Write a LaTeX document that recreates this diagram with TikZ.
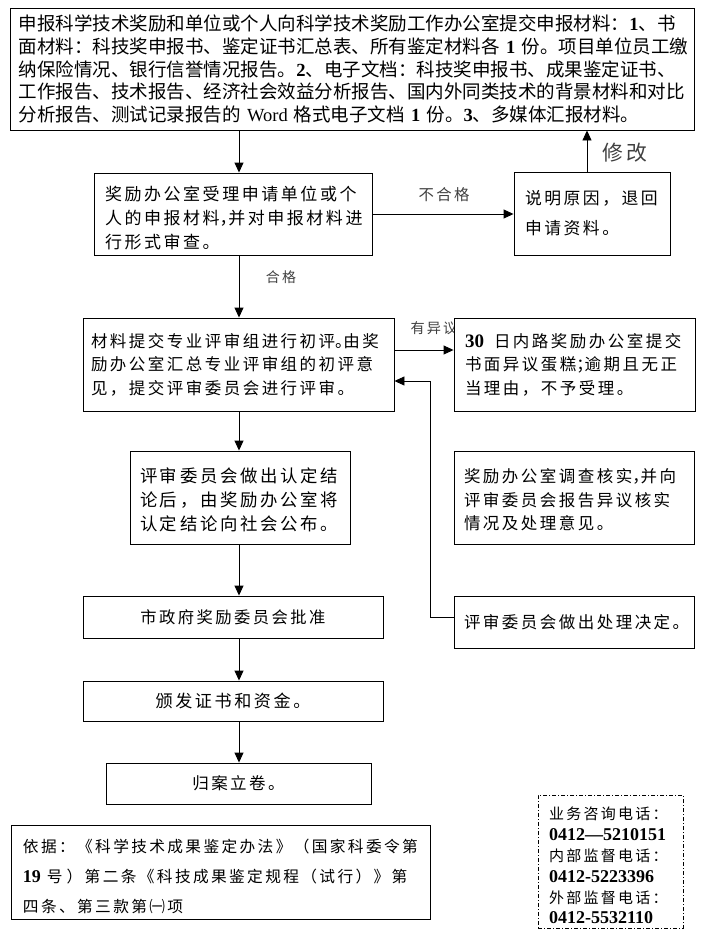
\documentclass[tikz,border=0pt]{standalone}
\usepackage{fontspec}
\setmainfont{Noto Sans CJK SC}
\newfontfamily\cjs[LetterSpace=15]{Noto Sans CJK SC}
\newfontfamily\tm{Liberation Serif}
\newcommand\dg[1]{{\tm\bfseries #1}}
\newcommand\dgz[2]{{\tm\bfseries\fontsize{#1}{#1}\selectfont #2}}
\newcommand\hc[1]{\makebox[0.5em][l]{#1}}
\newcommand\st[1]{\rule{0pt}{#1}}
\usetikzlibrary{arrows.meta}
\tikzset{
  bx/.style={draw, line width=0.9pt, fill=white, inner ysep=0pt, align=left},
  bxc/.style={bx, align=center},
  phone/.style={draw, line width=0.8pt, dash pattern=on 4pt off 2pt on 1pt off 2pt, inner ysep=0pt, align=left},
  lbl/.style={inner sep=0pt, text=black!75},
  arr/.style={-{Triangle[length=10pt,width=9pt]}, line width=0.9pt}
}
\begin{document}
\begin{tikzpicture}[x=1pt,y=-1pt]
\useasboundingbox (0,0) rectangle (724,948);
% labels
\node[lbl, font=\cjs\fontsize{20.8}{24}\selectfont] (lxg) at (625,153) {修改};
\node[lbl, font=\cjs\fontsize{15.4}{18}\selectfont] (lbhg) at (444,195) {不合格};
\node[lbl, font=\cjs\fontsize{14}{16}\selectfont] (lhg) at (281,277) {合格};
\node[lbl, font=\cjs\fontsize{14.2}{16}\selectfont] (lyyy) at (434,328) {有异议};
% boxes
\node[bx, minimum width=684pt, minimum height=122pt, inner xsep=9pt, text width=666pt,
      font=\fontsize{18.5}{22.7}\selectfont] (T) at (352,69)
 {申报科学技术奖励和单位或个人向科学技术奖励工作办公室提交申报材料：\dg{1}、书\\
  面材料：科技奖申报书、鉴定证书汇总表、所有鉴定材料各~\dg{1}~份。项目单位员工缴\\
  纳保险情况、银行信誉情况报告。\dg{2}、电子文档：科技奖申报书、成果鉴定证书、\\
  工作报告、技术报告、经济社会效益分析报告、国内外同类技术的背景材料和对比\\
  分析报告、测试记录报告的~{\tm Word}~格式电子文档~\dg{1}~份。\dg{3}、多媒体汇报材料。};
\node[bx, minimum width=278pt, minimum height=82pt, inner xsep=11pt, text width=256pt,
      font=\cjs\fontsize{17}{24}\selectfont] (B2) at (233,214)
 {\st{23pt}奖励办公室受理申请单位或个\\人的申报材料\hc{，}并对申报材料进\\行形式审查。};
\node[bx, minimum width=156pt, minimum height=83pt, inner xsep=11pt, text width=134pt,
      font=\cjs\fontsize{16.8}{30}\selectfont] (B3) at (592,213.5)
 {说明原因，退回\\申请资料。};
\node[bx, minimum width=311pt, minimum height=93pt, inner xsep=8pt, text width=295pt,
      font=\cjs\fontsize{16.5}{23.5}\selectfont] (B4) at (238.5,364.5)
 {材料提交专业评审组进行初评\hc{。}由奖\\励办公室汇总专业评审组的初评意\\见，提交评审委员会进行评审。};
\node[bx, minimum width=241pt, minimum height=93pt, inner xsep=11pt, text width=219pt,
      font=\cjs\fontsize{16.5}{23.5}\selectfont] (B5) at (574.5,364.5)
 {\dgz{19}{30}\hspace{10pt}日内路奖励办公室提交\\书面异议蛋糕\hc{；}逾期且无正\\当理由，不予受理。};
\node[bx, minimum width=220pt, minimum height=93pt, inner xsep=10pt, text width=200pt,
      font=\cjs\fontsize{17.4}{23.7}\selectfont] (B8) at (240,497.5)
 {\st{19.5pt}评审委员会做出认定结\\论后，由奖励办公室将\\认定结论向社会公布。};
\node[bx, minimum width=240pt, minimum height=93pt, inner xsep=10pt, text width=220pt,
      font=\cjs\fontsize{16.5}{23.5}\selectfont] (B6) at (574,497.5)
 {\st{18.5pt}奖励办公室调查核实\hc{，}并向\\评审委员会报告异议核实\\情况及处理意见。};
\node[bxc, minimum width=300pt, minimum height=42pt, inner xsep=10pt, text width=280pt,
      font=\cjs\fontsize{16.3}{20}\selectfont] (B9) at (233,617)
 {市政府奖励委员会批准};
\node[bx, minimum width=240pt, minimum height=52pt, inner xsep=10pt, text width=220pt,
      font=\cjs\fontsize{16.5}{20}\selectfont] (B7) at (574,622)
 {评审委员会做出处理决定。};
\node[bxc, minimum width=300pt, minimum height=40pt, inner xsep=10pt, text width=280pt,
      font=\cjs\fontsize{17.1}{20}\selectfont] (B10) at (233,701)
 {颁发证书和资金。};
\node[bxc, minimum width=265pt, minimum height=41pt, inner xsep=10pt, text width=245pt,
      font=\cjs\fontsize{16.5}{20}\selectfont] (B11) at (238.5,783.5)
 {归案立卷。};
\node[bx, minimum width=419pt, minimum height=94pt, inner xsep=12pt, text width=395pt,
      font=\cjs\fontsize{15.7}{30}\selectfont] (B12) at (220.5,872)
 {\st{23pt}依据：《科学技术成果鉴定办法》（国家科委令第\\
  \dgz{18}{19}\hspace{6pt}号\hspace{4pt}）第二条《科技成果鉴定规程（试行）》第\\
  四条、第三款第㈠项};
\node[phone, minimum width=145pt, minimum height=133pt, inner xsep=11pt, text width=123pt,
      font=\cjs\fontsize{15}{20.8}\selectfont] (P) at (610.5,861.5)
 {\st{21pt}业务咨询电话：\\\dgz{18}{0412—5210151}\\内部监督电话：\\\dgz{18}{0412-5223396}\\外部监督电话：\\\dgz{18}{0412-5532110}};
% connectors
\coordinate (ax) at (239,0);
\coordinate (ux) at (587,0);
\coordinate (ry) at (0,350);
\coordinate (cx) at (430,381);
\draw[arr] (T.south -| ax) -- (B2.north -| ax);
\draw[arr] (B3.north -| ux) -- (T.south -| ux);
\draw[arr] (B2.east) -- (B3.west |- B2.east);
\draw[arr] (B2.south -| ax) -- (B4.north -| ax);
\draw[arr] (B4.east |- ry) -- (B5.west |- ry);
\draw[arr] ([yshift=5pt]B7.west) -| (cx) -- (B4.east |- cx);
\draw[arr] (B4.south -| ax) -- (B8.north -| ax);
\draw[arr] (B8.south -| ax) -- (B9.north -| ax);
\draw[arr] (B9.south -| ax) -- (B10.north -| ax);
\draw[arr] (B10.south -| ax) -- (B11.north -| ax);
\end{tikzpicture}
\end{document}
